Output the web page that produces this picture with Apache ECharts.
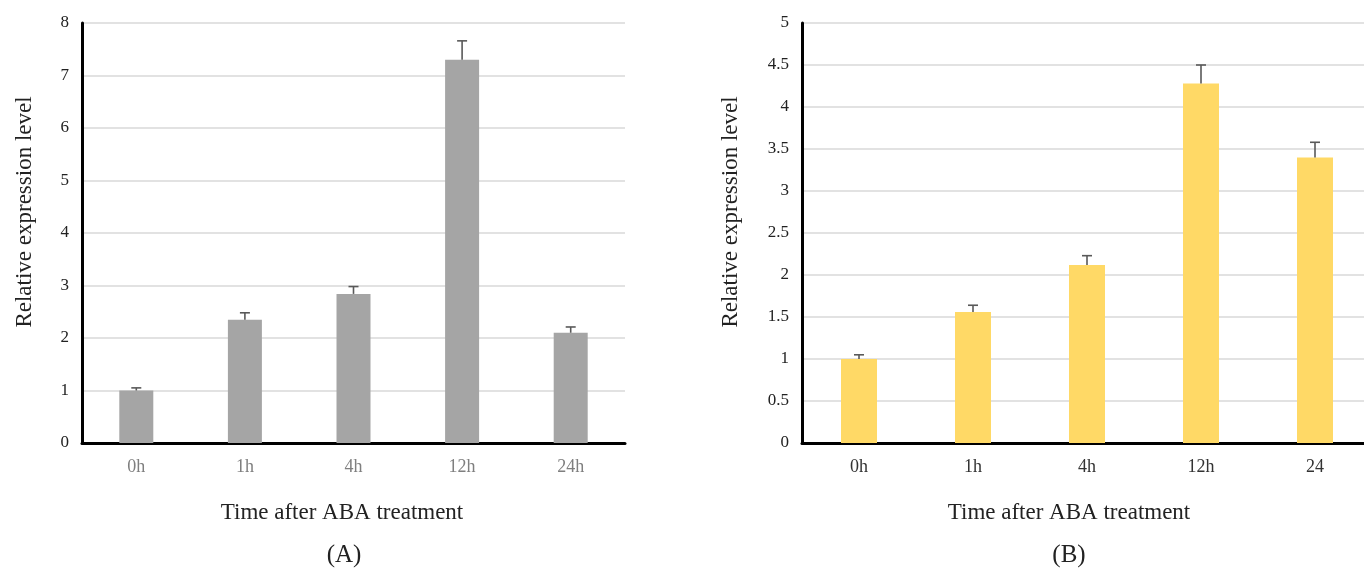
<!DOCTYPE html>
<html>
<head>
<meta charset="utf-8">
<script src="https://cdn.jsdelivr.net/npm/echarts@6/dist/echarts.min.js"></script>
<style>html,body{margin:0;padding:0;background:#fff;}#c{width:1364px;height:570px;}</style>
</head>
<body>
<div id="c"></div>
<script>
const categoriesA = ['0h', '1h', '4h', '12h', '24h'];
const valuesA = [1.0, 2.35, 2.84, 7.3, 2.1];
const errorsA = [0.05, 0.13, 0.14, 0.36, 0.11];

const categoriesB = ['0h', '1h', '4h', '12h', '24'];
const valuesB = [1.0, 1.56, 2.12, 4.28, 3.4];
const errorsB = [0.05, 0.08, 0.11, 0.22, 0.18];

const yNameText = 'Relative expression level';
const xNameText = 'Time after ABA treatment';
const panelLabels = ['(A)', '(B)'];

const FONT = '"Liberation Serif", "DejaVu Serif", serif';

function errRender(params, api) {
  const x = api.value(0), y = api.value(1), e = api.value(2);
  const base = api.coord([x, y]);
  const top = api.coord([x, y + e]);
  const st = { stroke: '#595959', lineWidth: 1.6 };
  return {
    type: 'group',
    children: [
      { type: 'line', shape: { x1: base[0], y1: base[1], x2: top[0], y2: top[1] }, style: st },
      { type: 'line', shape: { x1: top[0] - 5, y1: top[1], x2: top[0] + 5, y2: top[1] }, style: st }
    ]
  };
}

function yAxisCfg(gridIndex, max, interval) {
  return {
    type: 'value', gridIndex, min: 0, max, interval,
    axisLine: { show: true, lineStyle: { color: '#000', width: 3 } },
    axisTick: { show: false },
    axisLabel: { fontFamily: FONT, fontSize: 17, color: '#222', margin: 13 },
    splitLine: { show: true, lineStyle: { color: '#d9d9d9', width: 1.5 } }
  };
}

function xAxisCfg(gridIndex, cats, labelColor) {
  return {
    type: 'category', gridIndex, data: cats,
    axisLine: { show: true, lineStyle: { color: '#000', width: 3 } },
    axisTick: { show: false },
    axisLabel: { fontFamily: FONT, fontSize: 18, color: labelColor, margin: 15 }
  };
}

function textTitle(text, cx, top, size) {
  return { text, left: cx, top, textAlign: 'center', padding: 0,
    textStyle: { fontFamily: FONT, fontSize: size, fontWeight: 'normal', color: '#222' } };
}

function yName(cx, cy) {
  return { type: 'text', x: cx, y: cy, rotation: Math.PI / 2,
    style: { text: yNameText, font: '23px ' + FONT, fill: '#222',
      textAlign: 'center', textVerticalAlign: 'middle' } };
}

const chart = echarts.init(document.getElementById('c'), null, { renderer: 'canvas' });
chart.setOption({
  animation: false,
  backgroundColor: '#fff',
  title: [
    textTitle(xNameText, 342, 501, 23),
    textTitle(xNameText, 1069, 501, 23),
    textTitle(panelLabels[0], 344, 543, 25),
    textTitle(panelLabels[1], 1069, 543, 25)
  ],
  graphic: [ yName(25, 212), yName(731, 212) ],
  grid: [
    { left: 82, top: 23, width: 543, height: 420, outerBoundsMode: 'none' },
    { left: 802, top: 23, width: 570, height: 420, outerBoundsMode: 'none' }
  ],
  xAxis: [ xAxisCfg(0, categoriesA, '#7f7f7f'), xAxisCfg(1, categoriesB, '#333') ],
  yAxis: [ yAxisCfg(0, 8, 1), yAxisCfg(1, 5, 0.5) ],
  series: [
    { type: 'bar', xAxisIndex: 0, yAxisIndex: 0, data: valuesA, barWidth: 34,
      itemStyle: { color: '#a5a5a5' }, z: 2 },
    { type: 'custom', xAxisIndex: 0, yAxisIndex: 0, renderItem: errRender,
      data: valuesA.map((v, i) => [i, v, errorsA[i]]), z: 3 },
    { type: 'bar', xAxisIndex: 1, yAxisIndex: 1, data: valuesB, barWidth: 36,
      itemStyle: { color: '#ffd966' }, z: 2 },
    { type: 'custom', xAxisIndex: 1, yAxisIndex: 1, renderItem: errRender,
      data: valuesB.map((v, i) => [i, v, errorsB[i]]), z: 3 }
  ]
});
</script>
</body>
</html>
